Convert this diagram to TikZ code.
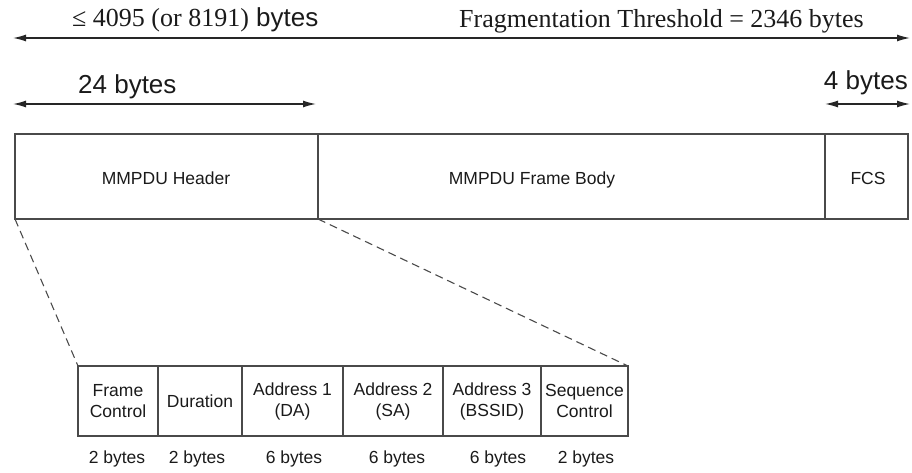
\documentclass[tikz,border=0pt]{standalone}
\usepackage{fontspec}
\setmainfont{Liberation Sans}
\newfontfamily\timesf{Liberation Serif}
\usetikzlibrary{arrows.meta}
\definecolor{linec}{HTML}{4A4A4A}
\definecolor{textc}{HTML}{1A1A1A}
\begin{document}
\begin{tikzpicture}[x=1pt,y=-1pt,
  big/.style={text=textc, font=\fontsize{26}{30}\selectfont, inner sep=0pt},
  small/.style={text=textc, font=\fontsize{17.5}{21}\selectfont, inner sep=0pt, align=center},
  hbox/.style={draw=linec, line width=1.2pt, minimum height=85pt, inner sep=0pt, outer sep=0pt},
  sbox/.style={draw=linec, line width=1.2pt, minimum height=70pt, inner sep=0pt, outer sep=0pt, text=textc, font=\fontsize{17.5}{21}\selectfont, align=center},
  dimarrow/.style={draw=black!85, line width=1.4pt, {Latex[length=13pt,width=7pt]}-{Latex[length=13pt,width=7pt]}},
  zoomline/.style={draw=linec, line width=1.1pt, dash pattern=on 8pt off 5pt}]
\useasboundingbox (0,0) rectangle (912,473);
% top dimension
\coordinate (t1) at (13,38);
\coordinate (t2) at (910,38);
\draw[dimarrow] (t1) -- (t2);
\node[big, anchor=base west] (lbl1) at (72,27) {{\timesf ≤ 4095 (or 8191)} bytes};
\node[big, anchor=base west] (lbl2) at (459,28) {\timesf Fragmentation Threshold = 2346 bytes};
% second dimensions
\coordinate (h1) at (13,104);
\coordinate (h2) at (316,104);
\draw[dimarrow] (h1) -- (h2);
\node[big, anchor=base west] (lbl3) at (78,94) {24 bytes};
\coordinate (f1) at (825,104);
\coordinate (f2) at (910,104);
\draw[dimarrow] (f1) -- (f2);
\node[big, anchor=base east] (lbl4) at (908,90) {4 bytes};
% main boxes
\node[hbox, minimum width=303pt] (hdr) at (166.5,176.5) {};
\node[hbox, minimum width=507pt] (body) at (571.5,176.5) {};
\node[hbox, minimum width=83pt] (fcs) at (866.5,176.5) {};
\node[small, anchor=base] (hdrt) at (166,185) {MMPDU Header};
\node[small, anchor=base] (bodyt) at (532,185) {MMPDU Frame Body};
\node[small, anchor=base] (fcst) at (868,185) {FCS};
% sub boxes
\node[sbox, minimum width=80pt] (s1) at (118,401) {Frame\\Control};
\node[sbox, minimum width=84pt] (s2) at (200,401) {Duration};
\node[sbox, minimum width=101pt] (s3) at (292.5,401) {Address 1\\(DA)};
\node[sbox, minimum width=100pt] (s4) at (393,401) {Address 2\\(SA)};
\node[sbox, minimum width=98pt] (s5) at (492,401) {Address 3\\(BSSID)};
\node[sbox, minimum width=87pt] (s6) at (584.5,401) {Sequence\\Control};
% zoom lines
\draw[zoomline] (hdr.south west) -- (s1.north west);
\draw[zoomline] (hdr.south east) -- (s6.north east);
% byte labels
\node[small, anchor=base] (b1) at (117,463) {2 bytes};
\node[small, anchor=base] (b2) at (197,463) {2 bytes};
\node[small, anchor=base] (b3) at (294,463) {6 bytes};
\node[small, anchor=base] (b4) at (397,463) {6 bytes};
\node[small, anchor=base] (b5) at (498,463) {6 bytes};
\node[small, anchor=base] (b6) at (586,463) {2 bytes};
\end{tikzpicture}
\end{document}
